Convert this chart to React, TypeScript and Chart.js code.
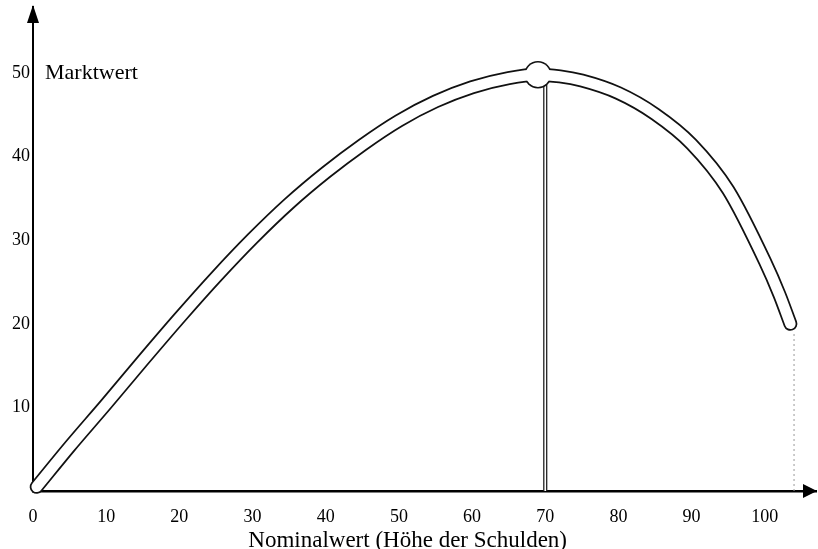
import React, { useEffect, useRef } from "react";
import { Chart, registerables } from "chart.js";

Chart.register(...registerables);

// Curve: Marktwert as a function of Nominalwert
const nominal = [0.5, 5, 10, 15, 20, 25, 30, 35, 40, 45, 50, 55, 60, 65, 69, 72, 75, 80, 85, 90, 95, 100, 102, 103.5];
const market = [0.5, 5.3, 10.4, 15.6, 20.7, 25.6, 30.2, 34.4, 38.1, 41.4, 44.3, 46.6, 48.3, 49.4, 49.8, 49.6, 49.1, 47.6, 45.1, 41.5, 36.0, 27.5, 23.5, 20.0];
const peakIndex = 14;

// Reference lines
const optimumNominal = [70, 70];
const optimumMarket = [0, 48.6];
const limitNominal = [104, 104];
const limitMarket = [0, 19];

const xTicks = [0, 10, 20, 30, 40, 50, 60, 70, 80, 90, 100];
const yTicks = [10, 20, 30, 40, 50];

const yLabel = "Marktwert";
const xLabel = "Nominalwert (Höhe der Schulden)";

const FONT = "'Liberation Serif', 'Times New Roman', serif";

const pts = (xs: number[], ys: number[]) => xs.map((x, i) => ({ x, y: ys[i] }));

const decorPlugin = {
  id: "decor",
  afterDraw(chart: any) {
    const { ctx, chartArea, scales } = chart;
    const { left, top, right, bottom } = chartArea;
    ctx.save();
    ctx.fillStyle = "#000";
    ctx.strokeStyle = "#000";
    // y axis extension + arrow
    ctx.lineWidth = 2;
    ctx.beginPath();
    ctx.moveTo(left, top + 2);
    ctx.lineTo(left, top - 6);
    ctx.stroke();
    ctx.beginPath();
    ctx.moveTo(left, top - 7);
    ctx.lineTo(left - 6, top + 11);
    ctx.lineTo(left + 6, top + 11);
    ctx.closePath();
    ctx.fill();
    // x arrow
    ctx.beginPath();
    ctx.moveTo(right + 1, bottom);
    ctx.lineTo(right - 13, bottom - 7);
    ctx.lineTo(right - 13, bottom + 7);
    ctx.closePath();
    ctx.fill();
    // y label
    ctx.font = `22px ${FONT}`;
    ctx.textBaseline = "middle";
    ctx.textAlign = "left";
    ctx.fillText(yLabel, left + 12, scales.y.getPixelForValue(50));
    // x label
    ctx.font = `23px ${FONT}`;
    ctx.textAlign = "center";
    ctx.fillText(xLabel, scales.x.getPixelForValue(51.2), 541);
    ctx.restore();
  },
};

export default function App() {
  const ref = useRef<HTMLCanvasElement | null>(null);

  useEffect(() => {
    document.body.style.margin = "0";
    const canvas = ref.current;
    if (!canvas) return;
    const chart = new Chart(canvas, {
      type: "line",
      data: {
        datasets: [
          {
            data: pts(nominal, market),
            borderColor: "#fff",
            borderWidth: 10.5,
            borderCapStyle: "round",
            borderJoinStyle: "round",
            cubicInterpolationMode: "monotone",
            pointRadius: (c: any) => (c.dataIndex === peakIndex ? 12.2 : 0),
            pointBackgroundColor: "#fff",
            pointBorderWidth: 0,
            clip: false,
            order: 0,
          },
          {
            data: pts(nominal, market),
            borderColor: "#111",
            borderWidth: 14,
            borderCapStyle: "round",
            borderJoinStyle: "round",
            cubicInterpolationMode: "monotone",
            pointRadius: (c: any) => (c.dataIndex === peakIndex ? 13.8 : 0),
            pointBackgroundColor: "#111",
            pointBorderWidth: 0,
            clip: false,
            order: 1,
          },
          {
            data: pts(optimumNominal, optimumMarket),
            borderColor: "#fff",
            borderWidth: 1.6,
            pointRadius: 0,
            order: 2,
          },
          {
            data: pts(optimumNominal, optimumMarket),
            borderColor: "#222",
            borderWidth: 4.2,
            pointRadius: 0,
            order: 3,
          },
          {
            data: pts(limitNominal, limitMarket),
            borderColor: "#999",
            borderWidth: 1,
            borderDash: [2, 3],
            pointRadius: 0,
            order: 4,
          },
        ],
      },
      options: {
        animation: false,
        responsive: true,
        maintainAspectRatio: false,
        layout: { autoPadding: false, padding: { left: 9, right: 2, top: 5, bottom: 6 } },
        plugins: { legend: { display: false }, tooltip: { enabled: false } },
        scales: {
          x: {
            type: "linear",
            min: 0,
            max: 107,
            grid: { display: false, drawTicks: false },
            border: { display: true, color: "#000", width: 2.5 },
            afterBuildTicks: (s: any) => {
              s.ticks = xTicks.map((v) => ({ value: v }));
            },
            ticks: {
              color: "#000",
              padding: 17,
              maxRotation: 0,
              autoSkip: false,
              font: { family: FONT, size: 18, lineHeight: 1 },
            },
          },
          y: {
            type: "linear",
            min: 0,
            max: 57.3,
            grid: { display: false, drawTicks: false },
            border: { display: true, color: "#000", width: 2 },
            afterBuildTicks: (s: any) => {
              s.ticks = yTicks.map((v) => ({ value: v }));
            },
            ticks: {
              color: "#000",
              padding: 3,
              autoSkip: false,
              font: { family: FONT, size: 18, lineHeight: 1 },
            },
          },
        },
      },
      plugins: [decorPlugin],
    } as any);
    return () => chart.destroy();
  }, []);

  return (
    <div style={{ position: "fixed", left: 0, top: 0, width: 818, height: 549, background: "#fff" }}>
      <canvas ref={ref} />
    </div>
  );
}
